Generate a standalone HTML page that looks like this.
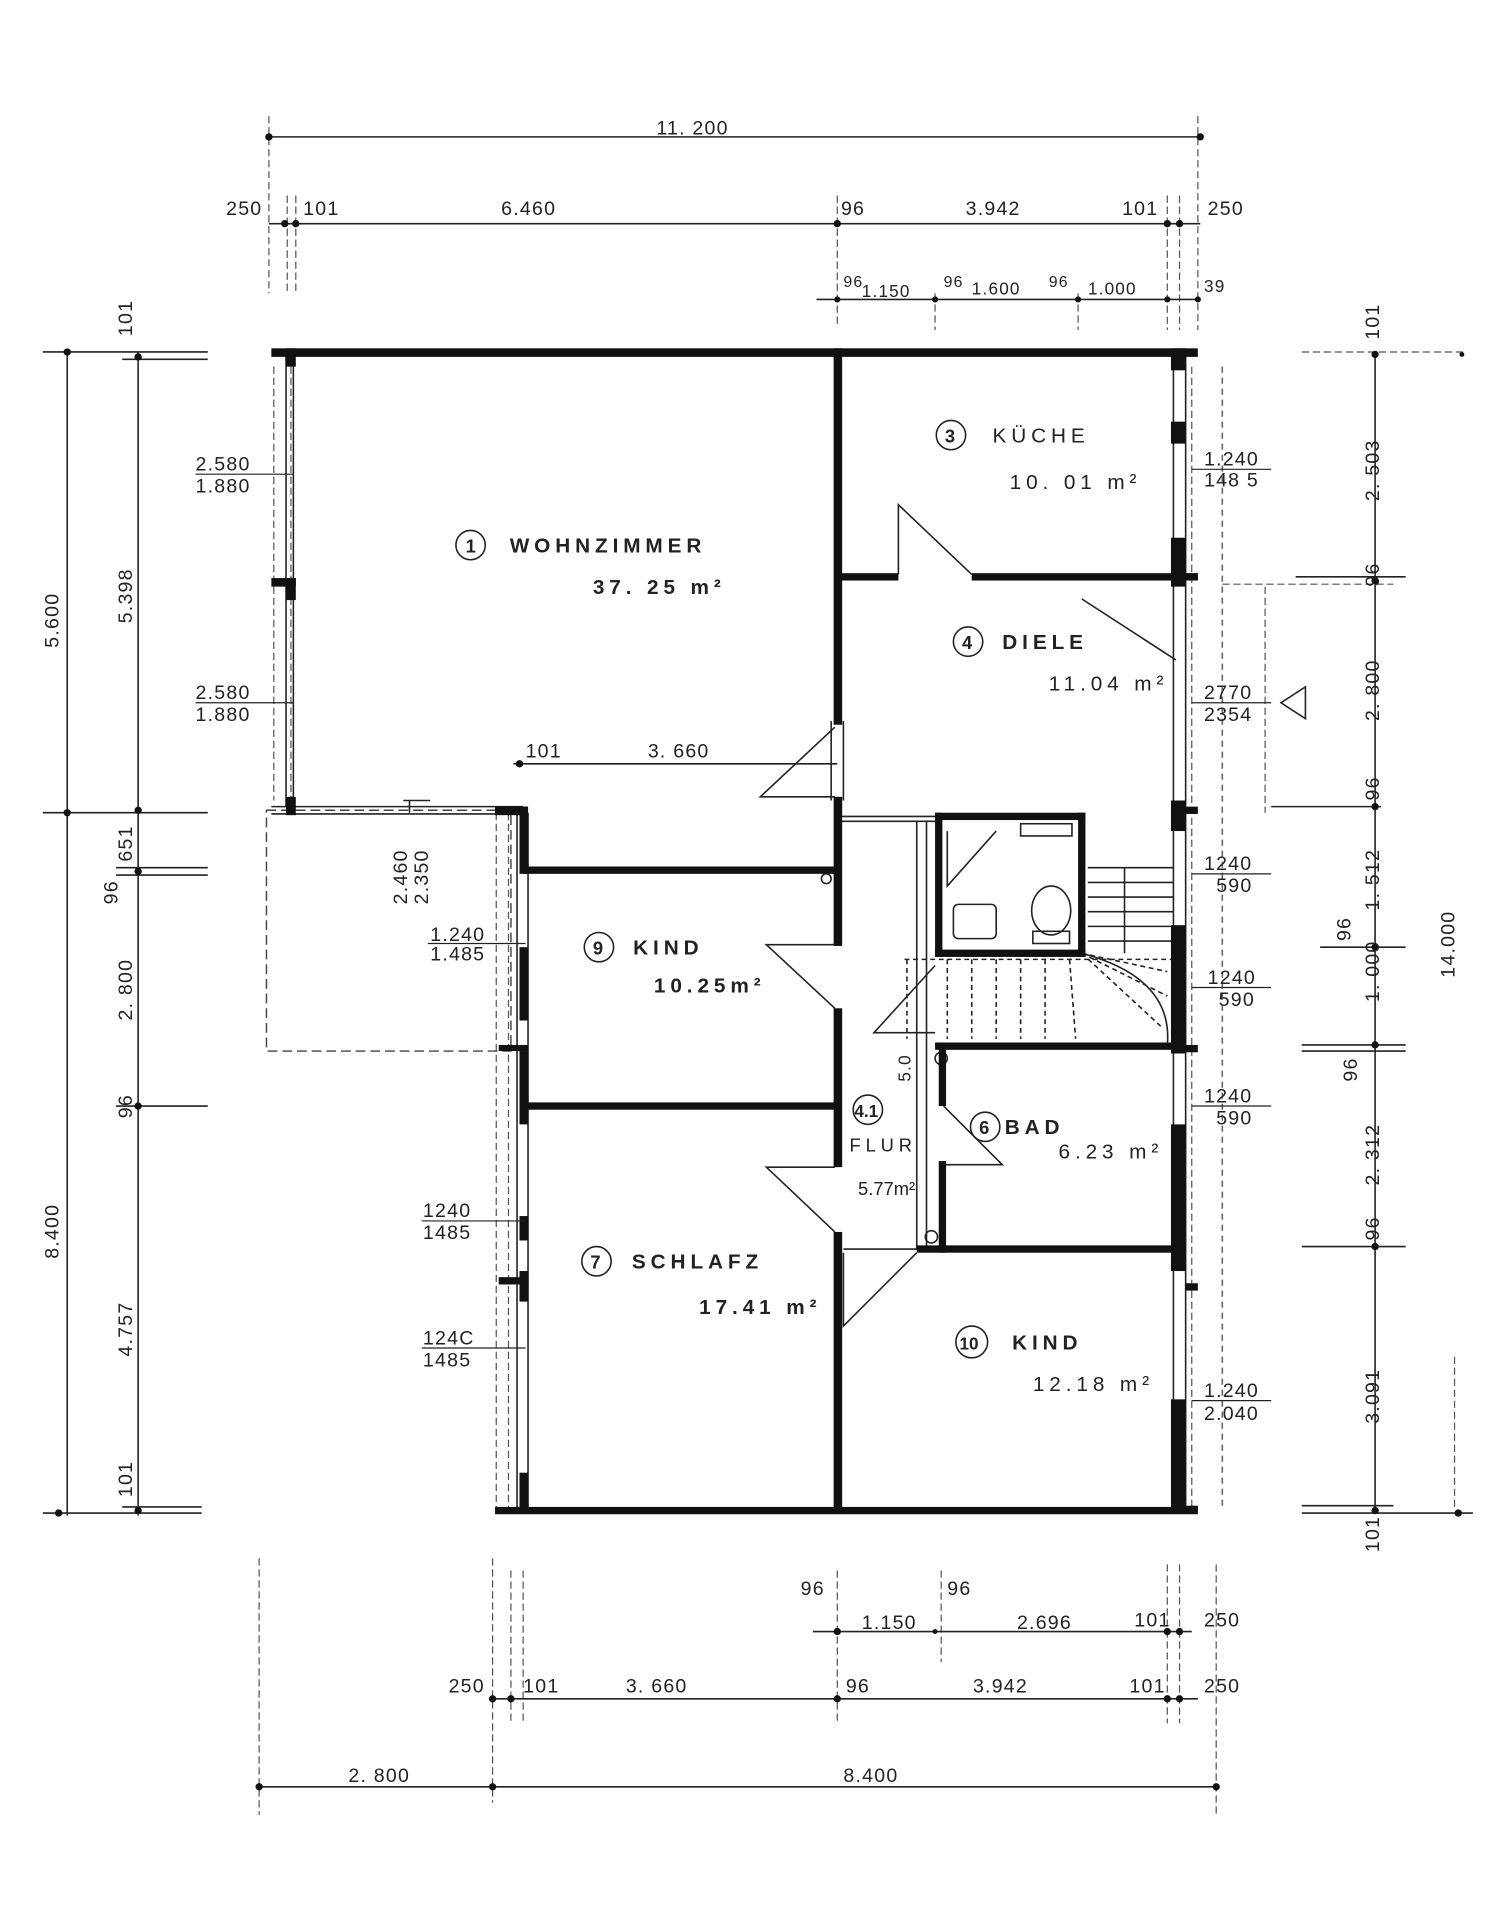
<!DOCTYPE html>
<html><head><meta charset="utf-8"><style>
html,body{margin:0;padding:0;background:#fff;}
svg{display:block;}
text{font-family:"Liberation Sans",sans-serif;fill:#222;}
</style></head><body>
<svg width="1501" height="1920" viewBox="0 0 1228 1571" preserveAspectRatio="none" xmlns="http://www.w3.org/2000/svg">
<rect width="1228" height="1571" fill="#fff"/>
<g stroke="#555" stroke-width="1" stroke-dasharray="6,3" fill="none">
<line x1="220" y1="95" x2="220" y2="240"/><line x1="235" y1="160" x2="235" y2="240"/><line x1="242" y1="160" x2="242" y2="240"/>
<line x1="685" y1="160" x2="685" y2="265"/><line x1="955" y1="160" x2="955" y2="270"/><line x1="965" y1="160" x2="965" y2="270"/><line x1="980" y1="95" x2="980" y2="270"/>
<line x1="765" y1="240" x2="765" y2="270"/><line x1="882" y1="240" x2="882" y2="270"/>
<line x1="975" y1="300" x2="975" y2="1236"/><line x1="238" y1="300" x2="238" y2="655"/><line x1="224" y1="300" x2="224" y2="655"/>
<line x1="406" y1="665" x2="406" y2="1236"/><line x1="416" y1="665" x2="416" y2="1236"/>
<line x1="212" y1="1275" x2="212" y2="1485"/><line x1="403" y1="1275" x2="403" y2="1475"/><line x1="418" y1="1285" x2="418" y2="1410"/><line x1="428" y1="1285" x2="428" y2="1410"/>
<line x1="685" y1="1285" x2="685" y2="1410"/><line x1="770" y1="1285" x2="770" y2="1360"/><line x1="955" y1="1280" x2="955" y2="1410"/><line x1="965" y1="1280" x2="965" y2="1410"/><line x1="995" y1="1280" x2="995" y2="1485"/>
<line x1="1065" y1="288" x2="1200" y2="288"/><line x1="1000" y1="478" x2="1140" y2="478"/><line x1="1035" y1="480" x2="1035" y2="665"/>
<line x1="1190" y1="1110" x2="1190" y2="1236"/>
</g>
<g stroke="#222" stroke-width="1.3" fill="none">
<line x1="220" y1="112" x2="982" y2="112"/>
<line x1="220" y1="183" x2="982" y2="183"/>
<line x1="668" y1="245" x2="982" y2="245"/>
<line x1="55" y1="288" x2="55" y2="1240"/><line x1="113" y1="288" x2="113" y2="1240"/>
<line x1="1125" y1="288" x2="1125" y2="1236"/>
<line x1="665" y1="1335" x2="975" y2="1335"/>
<line x1="400" y1="1390" x2="980" y2="1390"/>
<line x1="212" y1="1462" x2="995" y2="1462"/>
<line x1="35" y1="288" x2="170" y2="288"/><line x1="100" y1="294" x2="170" y2="294"/>
<line x1="35" y1="665" x2="170" y2="665"/>
<line x1="95" y1="710" x2="170" y2="710"/><line x1="95" y1="716" x2="170" y2="716"/>
<line x1="95" y1="905" x2="170" y2="905"/>
<line x1="35" y1="1238" x2="165" y2="1238"/><line x1="100" y1="1233" x2="165" y2="1233"/>
<line x1="1065" y1="1238" x2="1205" y2="1238"/><line x1="1065" y1="1232" x2="1140" y2="1232"/>
<line x1="1060" y1="472" x2="1150" y2="472"/>
<line x1="1065" y1="855" x2="1150" y2="855"/><line x1="1065" y1="860" x2="1150" y2="860"/>
<line x1="1080" y1="775" x2="1150" y2="775"/>
<line x1="1065" y1="1020" x2="1150" y2="1020"/>
<line x1="1040" y1="660" x2="1130" y2="660"/>
<line x1="420" y1="625" x2="685" y2="625"/>
<line x1="335" y1="655" x2="335" y2="665"/>
</g>
<g fill="#111">
<circle cx="220" cy="112" r="3"/><circle cx="982" cy="112" r="3"/>
<circle cx="233" cy="183" r="3"/><circle cx="242" cy="183" r="3"/><circle cx="685" cy="183" r="3"/><circle cx="955" cy="183" r="3"/><circle cx="965" cy="183" r="3"/>
<circle cx="685" cy="245" r="2.5"/><circle cx="765" cy="245" r="2.5"/><circle cx="882" cy="245" r="2.5"/><circle cx="955" cy="245" r="2.5"/><circle cx="980" cy="245" r="2.5"/>
<circle cx="55" cy="288" r="3"/><circle cx="113" cy="292" r="3"/><circle cx="55" cy="665" r="3"/><circle cx="113" cy="663" r="3"/><circle cx="113" cy="713" r="3"/><circle cx="113" cy="905" r="3"/><circle cx="48" cy="1238" r="3"/><circle cx="113" cy="1236" r="3"/>
<circle cx="1125" cy="290" r="3"/><circle cx="1125" cy="475" r="3"/><circle cx="1125" cy="660" r="3"/><circle cx="1125" cy="775" r="3"/><circle cx="1125" cy="855" r="3"/><circle cx="1125" cy="1020" r="3"/><circle cx="1125" cy="1236" r="3"/><circle cx="1193" cy="1238" r="3"/><circle cx="1196" cy="290" r="2"/>
<circle cx="685" cy="1335" r="3"/><circle cx="765" cy="1335" r="2"/><circle cx="955" cy="1335" r="3"/><circle cx="965" cy="1335" r="3"/>
<circle cx="403" cy="1390" r="3"/><circle cx="418" cy="1390" r="3"/><circle cx="685" cy="1390" r="3"/><circle cx="955" cy="1390" r="3"/><circle cx="965" cy="1390" r="3"/>
<circle cx="212" cy="1462" r="3"/><circle cx="403" cy="1462" r="3"/><circle cx="995" cy="1462" r="3"/>
<circle cx="425" cy="625" r="3"/>
</g>
<rect x="218" y="663" width="200" height="197" fill="none" stroke="#444" stroke-width="1.2" stroke-dasharray="8,4"/>
<g stroke="#222" stroke-width="1.3" fill="none">
<line x1="234" y1="290" x2="234" y2="660"/><line x1="240" y1="290" x2="240" y2="660"/>
<line x1="222" y1="660" x2="428" y2="660"/><line x1="222" y1="666" x2="428" y2="666"/>
<line x1="960" y1="290" x2="960" y2="1236"/><line x1="970" y1="290" x2="970" y2="1236"/>
<line x1="423" y1="665" x2="423" y2="1236"/><line x1="432" y1="665" x2="432" y2="1236"/>
<line x1="685" y1="668" x2="765" y2="668"/><line x1="685" y1="672" x2="765" y2="672"/>
<line x1="750" y1="672" x2="750" y2="1022"/><line x1="758" y1="672" x2="758" y2="1022"/>
<line x1="690" y1="1022" x2="760" y2="1022"/>
<line x1="680" y1="590" x2="680" y2="655"/><line x1="690" y1="590" x2="690" y2="655"/>
<polyline points="735,470 735,413 795,470"/>
<polyline points="962,540 885,490"/>
<polyline points="683,595 622,652 683,652"/>
<polyline points="683,773 627,773 683,825"/>
<polyline points="683,955 627,955 683,1008"/>
<polyline points="690,1025 690,1085 750,1025"/>
<polyline points="772,905 820,953 772,953"/>
<polyline points="890,710 960,710"/>
<line x1="890" y1="722" x2="960" y2="722"/><line x1="890" y1="734" x2="960" y2="734"/><line x1="890" y1="746" x2="960" y2="746"/><line x1="890" y1="758" x2="960" y2="758"/><line x1="890" y1="770" x2="960" y2="770"/>
<line x1="920" y1="710" x2="920" y2="780"/>
<path d="M885,780 Q960,800 955,855"/>
<path d="M885,780 L955,795 M885,780 L955,815 M885,780 L950,840" stroke-dasharray="4,3"/>
<line x1="740" y1="785" x2="960" y2="785" stroke-dasharray="4,3"/>
<g stroke-dasharray="4,3"><line x1="775" y1="785" x2="775" y2="850"/><line x1="795" y1="785" x2="795" y2="850"/><line x1="815" y1="785" x2="815" y2="850"/><line x1="835" y1="785" x2="835" y2="850"/><line x1="855" y1="785" x2="855" y2="850"/><line x1="875" y1="785" x2="880" y2="850"/><line x1="742" y1="785" x2="742" y2="850"/></g>
<polyline points="765,790 715,845 765,845"/>
<polyline points="775,680 775,725 815,680"/>
<rect x="835" y="674" width="42" height="10"/>
<rect x="780" y="740" width="35" height="28" rx="4"/>
<ellipse cx="860" cy="745" rx="16" ry="20"/><rect x="845" y="762" width="30" height="10"/>
<circle cx="676" cy="719" r="4"/><circle cx="770" cy="866" r="5"/><circle cx="762" cy="1012" r="5"/>
<line x1="330" y1="655" x2="352" y2="655"/>
<line x1="1000" y1="300" x2="1000" y2="1236" stroke-dasharray="5,4" stroke="#666"/>
<polygon points="1048,575 1068,562 1068,588"/>
</g>
<g fill="#111">
<rect x="222" y="285" width="758" height="7"/>
<rect x="234" y="285" width="8" height="15"/><rect x="222" y="473" width="20" height="7"/><rect x="234" y="473" width="8" height="18"/><rect x="234" y="652" width="8" height="15"/>
<rect x="682" y="285" width="7" height="308"/><rect x="682" y="652" width="7" height="122"/><rect x="682" y="825" width="7" height="130"/><rect x="682" y="1008" width="7" height="230"/>
<rect x="685" y="469" width="50" height="6"/><rect x="795" y="469" width="185" height="6"/>
<rect x="958" y="285" width="12" height="18"/><rect x="958" y="345" width="12" height="18"/><rect x="958" y="440" width="12" height="40"/><rect x="958" y="655" width="12" height="25"/><rect x="958" y="757" width="12" height="105"/><rect x="958" y="920" width="12" height="120"/><rect x="958" y="1145" width="12" height="93"/>
<rect x="970" y="469" width="10" height="6"/><rect x="970" y="660" width="10" height="6"/><rect x="970" y="855" width="10" height="6"/><rect x="970" y="1050" width="10" height="6"/><rect x="970" y="1232" width="10" height="5"/>
<rect x="405" y="660" width="27" height="7"/><rect x="425" y="660" width="7" height="55"/><rect x="425" y="775" width="7" height="60"/><rect x="425" y="860" width="7" height="60"/><rect x="408" y="855" width="24" height="5"/><rect x="425" y="995" width="7" height="20"/><rect x="408" y="1045" width="24" height="6"/><rect x="425" y="1040" width="7" height="25"/><rect x="425" y="1205" width="7" height="33"/>
<rect x="428" y="709" width="257" height="6"/><rect x="428" y="902" width="257" height="6"/>
<rect x="405" y="1233" width="575" height="6"/>
<rect x="765" y="665" width="123" height="6"/><rect x="765" y="665" width="6" height="118"/><rect x="882" y="665" width="6" height="118"/><rect x="765" y="777" width="123" height="6"/>
<rect x="765" y="853" width="200" height="6"/><rect x="768" y="853" width="6" height="52"/><rect x="768" y="950" width="6" height="75"/>
<rect x="750" y="1019" width="215" height="6"/>
</g>
<g font-size="16" letter-spacing="1">
<text x="537" y="110">11. 200</text>
<text x="185" y="176">250</text><text x="248" y="176">101</text><text x="410" y="176">6.460</text><text x="688" y="176">96</text><text x="790" y="176">3.942</text><text x="918" y="176">101</text><text x="988" y="176">250</text>
<text x="690" y="235" font-size="13">96</text><text x="705" y="243" font-size="14">1.150</text><text x="772" y="235" font-size="13">96</text><text x="795" y="241" font-size="14">1.600</text><text x="858" y="235" font-size="13">96</text><text x="890" y="241" font-size="14">1.000</text><text x="985" y="239" font-size="14">39</text>
<text x="160" y="385">2.580</text><text x="160" y="403">1.880</text><line x1="160" y1="388" x2="240" y2="388" stroke="#222"/>
<text x="160" y="572">2.580</text><text x="160" y="590">1.880</text><line x1="160" y1="575" x2="240" y2="575" stroke="#222"/>
<text x="430" y="620">101</text><text x="530" y="620">3. 660</text>
<text x="352" y="770">1.240</text><text x="352" y="786">1.485</text><line x1="350" y1="772" x2="430" y2="772" stroke="#222"/>
<text x="346" y="996">1240</text><text x="346" y="1014">1485</text><line x1="345" y1="999" x2="430" y2="999" stroke="#222"/>
<text x="346" y="1100">124C</text><text x="346" y="1118">1485</text><line x1="345" y1="1103" x2="430" y2="1103" stroke="#222"/>
<text x="985" y="381">1.240</text><text x="985" y="398">148 5</text><line x1="975" y1="384" x2="1040" y2="384" stroke="#222"/>
<text x="985" y="572">2770</text><text x="985" y="590">2354</text><line x1="975" y1="575" x2="1040" y2="575" stroke="#222"/>
<text x="985" y="712">1240</text><text x="995" y="730">590</text><line x1="975" y1="715" x2="1040" y2="715" stroke="#222"/>
<text x="988" y="805">1240</text><text x="997" y="823">590</text><line x1="975" y1="808" x2="1040" y2="808" stroke="#222"/>
<text x="985" y="902">1240</text><text x="995" y="920">590</text><line x1="975" y1="905" x2="1040" y2="905" stroke="#222"/>
<text x="985" y="1143">1.240</text><text x="985" y="1162">2.040</text><line x1="975" y1="1146" x2="1040" y2="1146" stroke="#222"/>
<text x="655" y="1305">96</text><text x="775" y="1305">96</text><text x="705" y="1333">1.150</text><text x="832" y="1333">2.696</text><text x="928" y="1331">101</text><text x="985" y="1331">250</text>
<text x="367" y="1385">250</text><text x="428" y="1385">101</text><text x="512" y="1385">3. 660</text><text x="692" y="1385">96</text><text x="796" y="1385">3.942</text><text x="924" y="1385">101</text><text x="985" y="1385">250</text>
<text x="285" y="1458">2. 800</text><text x="690" y="1458">8.400</text>
<g transform="rotate(-90)">
<text x="-530" y="48">5.600</text><text x="-1030" y="48">8.400</text>
<text x="-275" y="108">101</text><text x="-510" y="108">5.398</text><text x="-705" y="108">651</text><text x="-740" y="96">96</text><text x="-835" y="108">2. 800</text><text x="-915" y="108">96</text><text x="-1110" y="108">4.757</text><text x="-1225" y="108">101</text>
<text x="-740" y="333">2.460</text><text x="-740" y="350">2.350</text>
<text x="-278" y="1128">101</text><text x="-410" y="1128">2. 503</text><text x="-480" y="1128">96</text><text x="-590" y="1128">2. 800</text><text x="-655" y="1128">96</text><text x="-745" y="1128">1. 512</text><text x="-770" y="1105">96</text><text x="-820" y="1128">1. 000</text><text x="-885" y="1110">96</text><text x="-970" y="1128">2. 312</text><text x="-1015" y="1128">96</text><text x="-1165" y="1128">3.091</text><text x="-1270" y="1128">101</text>
<text x="-800" y="1190">14.000</text>
<text x="-885" y="745" font-size="14">5.0</text>
</g>
</g>
<g font-size="17" letter-spacing="4" font-weight="bold">
<circle cx="385" cy="446" r="12" fill="none" stroke="#222" stroke-width="1.3"/><text x="381" y="452" letter-spacing="0" font-size="15">1</text>
<text x="417" y="452">WOHNZIMMER</text><text x="485" y="486">37. 25 m²</text>
<circle cx="778" cy="356" r="12" fill="none" stroke="#222" stroke-width="1.3"/><text x="773" y="362" letter-spacing="0" font-size="15">3</text>
<text x="812" y="362" font-weight="normal">KÜCHE</text><text x="826" y="400" font-weight="normal">10. 01  m²</text>
<circle cx="792" cy="525" r="12" fill="none" stroke="#222" stroke-width="1.3"/><text x="787" y="531" letter-spacing="0" font-size="15">4</text>
<text x="820" y="531">DIELE</text><text x="858" y="565" font-weight="normal">11.04 m²</text>
<circle cx="490" cy="775" r="12" fill="none" stroke="#222" stroke-width="1.3"/><text x="485" y="781" letter-spacing="0" font-size="15">9</text>
<text x="518" y="781">KIND</text><text x="535" y="812">10.25m²</text>
<circle cx="488" cy="1032" r="12" fill="none" stroke="#222" stroke-width="1.3"/><text x="483" y="1038" letter-spacing="0" font-size="15">7</text>
<text x="517" y="1038">SCHLAFZ</text><text x="572" y="1075">17.41  m²</text>
<circle cx="710" cy="908" r="12" fill="none" stroke="#222" stroke-width="1.3"/><text x="699" y="914" letter-spacing="0" font-size="14">4.1</text>
<text x="695" y="942" font-weight="normal" font-size="15">FLUR</text><text x="702" y="978" font-weight="normal" font-size="15" letter-spacing="0">5.77m²</text>
<circle cx="806" cy="922" r="12" fill="none" stroke="#222" stroke-width="1.3"/><text x="801" y="928" letter-spacing="0" font-size="15">6</text>
<text x="822" y="928">BAD</text><text x="866" y="948" font-weight="normal">6.23 m²</text>
<circle cx="795" cy="1098" r="13" fill="none" stroke="#222" stroke-width="1.3"/><text x="785" y="1104" letter-spacing="0" font-size="14">10</text>
<text x="828" y="1104">KIND</text><text x="845" y="1138" font-weight="normal">12.18 m²</text>
</g>
</svg>
</body></html>
